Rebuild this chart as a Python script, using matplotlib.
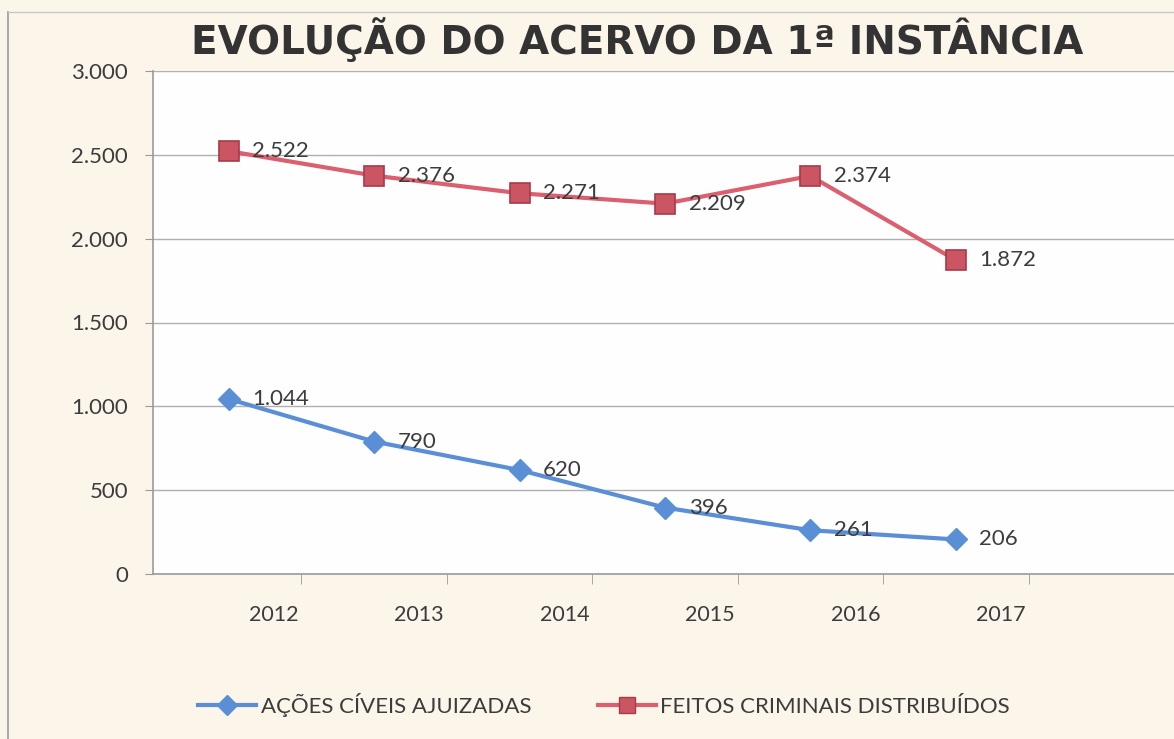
import numpy as np
import matplotlib.pyplot as plt
from matplotlib.lines import Line2D

anos = ['2012', '2013', '2014', '2015', '2016', '2017']
acoes_civeis = [1044, 790, 620, 396, 261, 206]
feitos_criminais = [2522, 2376, 2271, 2209, 2374, 1872]
rotulo_civeis = 'AÇÕES CÍVEIS AJUIZADAS'
rotulo_criminais = 'FEITOS CRIMINAIS DISTRIBUÍDOS'

azul = '#5a8fd6'
vermelho = '#dc5f6f'
texto = '#3c3c3c'


def fmt(v):
    return f'{v:,}'.replace(',', '.')


fig = plt.figure(figsize=(11.74, 7.39), dpi=100)
fig.patch.set_facecolor('#fbf5ea')

# moldura do grafico (foto)
fig.add_artist(Line2D([8 / 1174, 8 / 1174], [0, 1 - 12 / 739], color='#9a9a9a', lw=1.2))
fig.add_artist(Line2D([8 / 1174, 1], [1 - 12 / 739, 1 - 12 / 739], color='#c8c8c8', lw=1.0))

ax = fig.add_axes([153 / 1174, 1 - 574 / 739, 1 - 153 / 1174, (574 - 71) / 739])
ax.set_facecolor('#fefefe')

x = np.arange(len(anos))
ax.plot(x, acoes_civeis, color=azul, lw=3, marker='D', ms=11,
        mfc=azul, mec=azul, zorder=3)
ax.plot(x, feitos_criminais, color=vermelho, lw=3, marker='s', ms=14,
        mfc='#cc5564', mec='#a83a4a', mew=1.2, zorder=3)

for xi, v in zip(x, acoes_civeis):
    ax.annotate(fmt(v), (xi, v), xytext=(17, 0), textcoords='offset points',
                va='center', ha='left', fontsize=16, color=texto,
                family='Lato', zorder=4)
for xi, v in zip(x, feitos_criminais):
    ax.annotate(fmt(v), (xi, v), xytext=(17, 0), textcoords='offset points',
                va='center', ha='left', fontsize=16, color=texto,
                family='Lato', zorder=4)

ax.set_xlim(-0.52, 6.43)
ax.set_ylim(0, 3000)

yt = np.arange(0, 3001, 500)
ax.set_yticks(yt)
ax.set_yticklabels([fmt(v) for v in yt], family='Lato', fontsize=16, color=texto)
ax.yaxis.grid(True, color='#b0b0b0', lw=1)
ax.set_axisbelow(True)
ax.tick_params(axis='y', length=6, color='#999999', pad=12)

ax.set_xticks(x + 0.31)
ax.set_xticklabels(anos, family='Lato', fontsize=15.5, color=texto)
ax.set_xticks(np.arange(0, 7) + 0.5, minor=True)
ax.tick_params(axis='x', which='major', length=0, pad=22)
ax.tick_params(axis='x', which='minor', length=7, color='#999999')

for s in ['top', 'right']:
    ax.spines[s].set_visible(False)
for s in ['left', 'bottom']:
    ax.spines[s].set_color('#9a9a9a')
    ax.spines[s].set_linewidth(1.2)

fig.text(637 / 1174, 1 - 40 / 739, 'EVOLUÇÃO DO ACERVO DA 1ª INSTÂNCIA',
         ha='center', va='center', fontsize=28, fontweight='bold',
         family='DejaVu Sans', color='#333333')

handles = [
    Line2D([], [], color=azul, lw=3, marker='D', ms=10, mfc=azul, mec=azul),
    Line2D([], [], color=vermelho, lw=3, marker='s', ms=12, mfc='#cc5564', mec='#a83a4a'),
]
leg = fig.legend(handles, [rotulo_civeis, rotulo_criminais], loc='center',
                 bbox_to_anchor=(604 / 1174, 1 - 705 / 739), ncol=2, frameon=False,
                 prop={'family': 'Lato', 'size': 16}, handlelength=2.6,
                 handletextpad=0.2, columnspacing=3.0)
for t in leg.get_texts():
    t.set_color(texto)

fig.savefig('out.png', dpi=100, facecolor=fig.get_facecolor())
